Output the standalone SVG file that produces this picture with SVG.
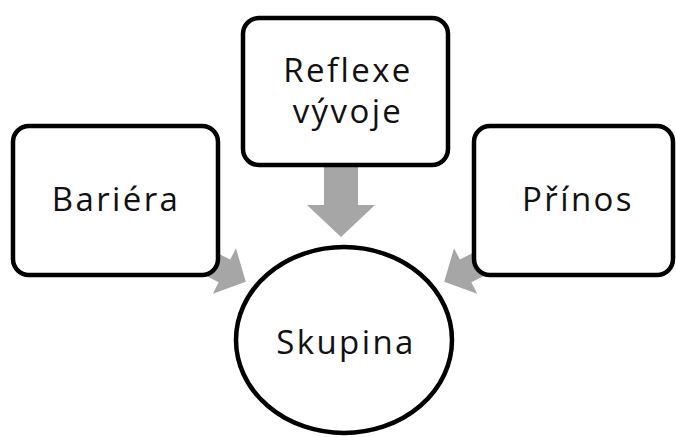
<svg xmlns="http://www.w3.org/2000/svg" width="676" height="437" viewBox="0 0 676 437">
  <style>
    .box { fill: #ffffff; stroke: #000000; stroke-width: 4.5; }
    .arrow { fill: #a6a6a6; }
    .label { font-family: "Open Sans", "Liberation Sans", sans-serif; font-size: 33px; letter-spacing: 2.4px; fill: #111111; text-anchor: middle; }
  </style>
  <defs>
    <!-- block arrow pointing along +x, tip at x=70 -->
    <polygon id="blockArrow" points="0,-17 38,-17 38,-34 70,0 38,34 38,17 0,17"/>
  </defs>
  <rect width="676" height="437" fill="#ffffff"/>

  <g id="connectors">
    <use href="#blockArrow" class="arrow" transform="translate(341,167) rotate(90)"/>
    <use href="#blockArrow" class="arrow" transform="translate(199,258) rotate(27) scale(0.75)"/>
    <use href="#blockArrow" class="arrow" transform="translate(491,258) rotate(153) scale(0.75)"/>
  </g>

  <g id="bariera">
    <rect class="box" x="13" y="126" width="205" height="149" rx="16"/>
    <text class="label" x="116" y="211">Bariéra</text>
  </g>

  <g id="reflexe">
    <rect class="box" x="243" y="18" width="205" height="147" rx="16"/>
    <text class="label" x="348" y="82">Reflexe</text>
    <text class="label" x="348" y="123">vývoje</text>
  </g>

  <g id="prinos">
    <rect class="box" x="474" y="126" width="199" height="149" rx="16"/>
    <text class="label" x="578" y="211">Přínos</text>
  </g>

  <g id="skupina">
    <ellipse class="box" cx="344" cy="340" rx="108" ry="93"/>
    <text class="label" x="346" y="354">Skupina</text>
  </g>
</svg>
